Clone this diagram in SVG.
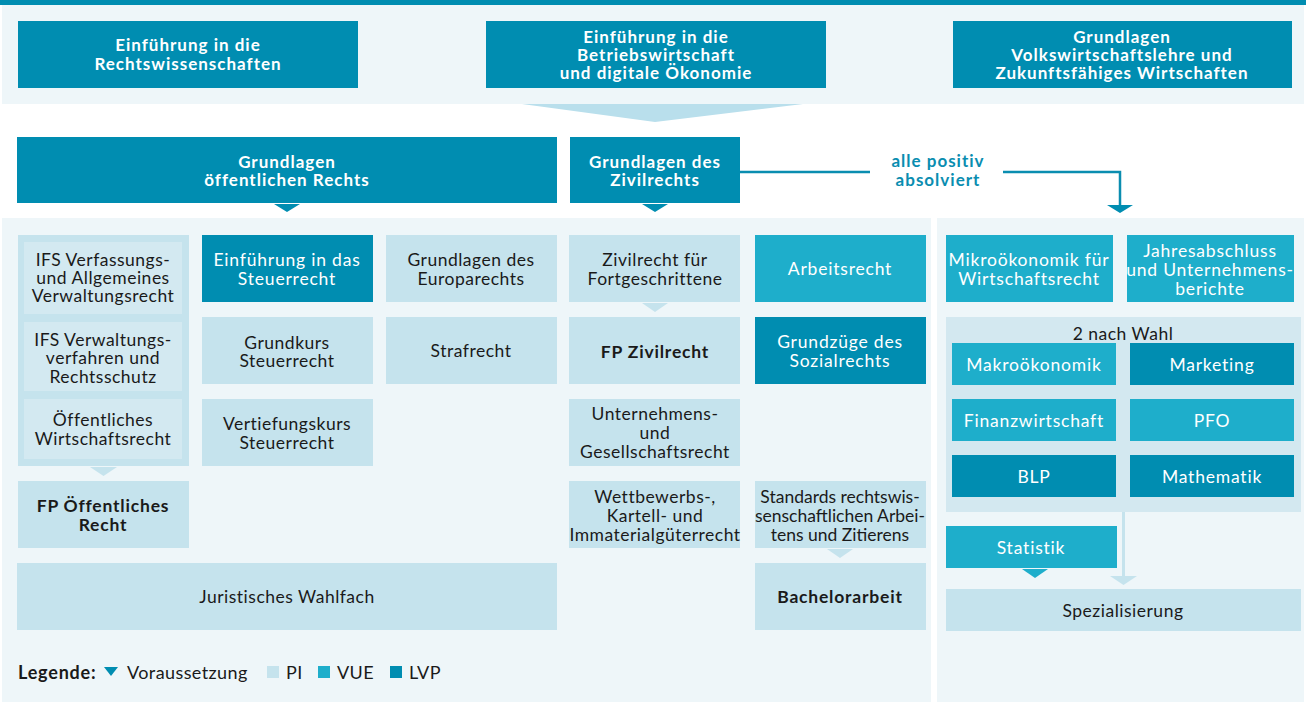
<svg xmlns="http://www.w3.org/2000/svg" width="1306" height="702" viewBox="0 0 1306 702">
<style>
.lvp{fill:#008db1}
.vue{fill:#1eaecb}
.pi{fill:#c5e3ed}
.pil{fill:#d3e9f1}
.grp{fill:#d3e8f0}
.bg{fill:#eef6f9}
.t{font-family:Lato,"Noto Sans",sans-serif;font-size:17.5px;fill:#1a1a1a;text-anchor:middle;letter-spacing:0.5px}
.w{fill:#ffffff;letter-spacing:0.8px}
.b{font-weight:bold;letter-spacing:0.8px}
.h{font-family:Lato,"Noto Sans",sans-serif;font-size:17px;font-weight:bold;fill:#ffffff;text-anchor:middle;letter-spacing:1px}
.lbl{font-family:Lato,"Noto Sans",sans-serif;font-size:17px;font-weight:bold;fill:#0a8db0;text-anchor:middle;letter-spacing:1px}
.lg{font-family:Lato,"Noto Sans",sans-serif;font-size:18px;fill:#1a1a1a;letter-spacing:0.4px}
.line{stroke:#0a8db0;stroke-width:2.5;fill:none}
</style>
<rect width="1306" height="702" fill="#ffffff"/>
<rect x="0" y="0" width="1306" height="5" class="lvp"/>
<rect x="2" y="5" width="1302" height="99" class="bg"/>
<rect x="2" y="218" width="929" height="484" class="bg"/>
<rect x="937" y="218" width="367" height="484" class="bg"/>

<g id="connectors">
<polygon points="522,104 803,104 655,122" fill="#b9dfec"/>
<polygon points="274,204 300,204 287,212" class="lvp"/>
<polygon points="642,204 668,204 655,212" class="lvp"/>
<polyline points="740,172 870,172" class="line"/>
<polyline points="1003,172 1120,172 1120,206" class="line"/>
<polygon points="1107,205 1133,205 1120,213" class="lvp"/>
<polygon points="90,467 117,467 103.5,476" class="pi"/>
<polygon points="642,303 668,303 655,312" class="pi"/>
<polygon points="827,549 853,549 840,558" class="pi"/>
<polygon points="1022,569 1048,569 1035,578" class="vue"/>
<rect x="1122" y="512" width="3" height="65" class="pi"/>
<polygon points="1110,576 1137,576 1123.5,585" class="pi"/>
</g>

<g id="n-rechtswiss"><rect x="18" y="21" width="340" height="67" class="lvp"/>
<text class="h" x="188" y="51">Einführung in die</text><text class="h" x="188" y="70">Rechtswissenschaften</text></g>
<g id="n-bwl"><rect x="486" y="21" width="340" height="67" class="lvp"/>
<text class="h" x="656" y="43">Einführung in die</text><text class="h" x="656" y="61">Betriebswirtschaft</text><text class="h" x="656" y="79">und digitale Ökonomie</text></g>
<g id="n-vwl"><rect x="953" y="21" width="339" height="67" class="lvp"/>
<text class="h" x="1122" y="43">Grundlagen</text><text class="h" x="1122" y="61">Volkswirtschaftslehre und</text><text class="h" x="1122" y="79">Zukunftsfähiges Wirtschaften</text></g>

<g id="n-oeff"><rect x="17" y="137" width="540" height="66" class="lvp"/>
<text class="h" x="287" y="168">Grundlagen</text><text class="h" x="287" y="186">öffentlichen Rechts</text></g>
<g id="n-zivil"><rect x="570" y="137" width="170" height="66" class="lvp"/>
<text class="h" x="655" y="168">Grundlagen des</text><text class="h" x="655" y="186">Zivilrechts</text></g>
<g id="lbl-positiv"><text class="lbl" x="938" y="167">alle positiv</text><text class="lbl" x="938" y="186">absolviert</text></g>

<g id="n-ifs-group"><rect x="18" y="235" width="171" height="231" class="pi"/></g>
<g id="n-ifs1"><rect x="24" y="242" width="158" height="72" class="pil"/>
<text class="t" x="103" y="266">IFS Verfassungs-</text><text class="t" x="103" y="284">und Allgemeines</text><text class="t" x="103" y="302">Verwaltungsrecht</text></g>
<g id="n-ifs2"><rect x="24" y="322" width="158" height="69" class="pil"/>
<text class="t" x="103" y="346">IFS Verwaltungs-</text><text class="t" x="103" y="364">verfahren und</text><text class="t" x="103" y="383">Rechtsschutz</text></g>
<g id="n-owr"><rect x="24" y="399" width="158" height="60" class="pil"/>
<text class="t" x="103" y="426">Öffentliches</text><text class="t" x="103" y="445">Wirtschaftsrecht</text></g>
<g id="n-fp-oeff"><rect x="18" y="481" width="171" height="67" class="pi"/>
<text class="t b" x="103" y="512">FP Öffentliches</text><text class="t b" x="103" y="531">Recht</text></g>
<g id="n-wahlfach"><rect x="17" y="563" width="540" height="67" class="pi"/>
<text class="t" x="287" y="603">Juristisches Wahlfach</text></g>

<g id="n-steuer1"><rect x="202" y="235" width="171" height="67" class="lvp"/>
<text class="t w" x="287" y="266">Einführung in das</text><text class="t w" x="287" y="285">Steuerrecht</text></g>
<g id="n-steuer2"><rect x="202" y="317" width="171" height="67" class="pi"/>
<text class="t" x="287" y="349">Grundkurs</text><text class="t" x="287" y="367">Steuerrecht</text></g>
<g id="n-steuer3"><rect x="202" y="399" width="171" height="67" class="pi"/>
<text class="t" x="287" y="430">Vertiefungskurs</text><text class="t" x="287" y="449">Steuerrecht</text></g>

<g id="n-europa"><rect x="386" y="235" width="171" height="67" class="pi"/>
<text class="t" x="471" y="266">Grundlagen des</text><text class="t" x="471" y="285">Europarechts</text></g>
<g id="n-straf"><rect x="386" y="317" width="171" height="67" class="pi"/>
<text class="t" x="471" y="357">Strafrecht</text></g>

<g id="n-zivil-fort"><rect x="569" y="235" width="171" height="67" class="pi"/>
<text class="t" x="655" y="266">Zivilrecht für</text><text class="t" x="655" y="285">Fortgeschrittene</text></g>
<g id="n-fp-zivil"><rect x="569" y="317" width="171" height="67" class="pi"/>
<text class="t b" x="655" y="358">FP Zivilrecht</text></g>
<g id="n-gesell"><rect x="569" y="399" width="171" height="67" class="pi"/>
<text class="t" x="655" y="420">Unternehmens-</text><text class="t" x="655" y="439">und</text><text class="t" x="655" y="458">Gesellschaftsrecht</text></g>
<g id="n-wettbewerb"><rect x="569" y="481" width="171" height="67" class="pi"/>
<text class="t" x="655" y="503">Wettbewerbs-,</text><text class="t" x="655" y="522">Kartell- und</text><text class="t" x="655" y="541">Immaterialgüterrecht</text></g>

<g id="n-arbeit"><rect x="755" y="235" width="171" height="67" class="vue"/>
<text class="t w" x="840" y="275">Arbeitsrecht</text></g>
<g id="n-sozial"><rect x="755" y="317" width="171" height="67" class="lvp"/>
<text class="t w" x="840" y="348">Grundzüge des</text><text class="t w" x="840" y="367">Sozialrechts</text></g>
<g id="n-standards"><rect x="755" y="481" width="171" height="67" class="pi"/>
<text class="t" x="840" y="503" style="letter-spacing:0px">Standards rechtswis-</text><text class="t" x="840" y="522" style="letter-spacing:0px">senschaftlichen Arbei-</text><text class="t" x="840" y="541" style="letter-spacing:0px">tens und Zitierens</text></g>
<g id="n-bachelor"><rect x="755" y="563" width="171" height="67" class="pi"/>
<text class="t b" x="840" y="603">Bachelorarbeit</text></g>

<g id="n-mikro"><rect x="946" y="235" width="167" height="67" class="vue"/>
<text class="t w" x="1029" y="266">Mikroökonomik für</text><text class="t w" x="1029" y="285">Wirtschaftsrecht</text></g>
<g id="n-jahres"><rect x="1127" y="235" width="167" height="67" class="vue"/>
<text class="t w" x="1210" y="257">Jahresabschluss</text><text class="t w" x="1210" y="276">und Unternehmens-</text><text class="t w" x="1210" y="295">berichte</text></g>
<g id="n-wahl-group"><rect x="946" y="317" width="355" height="195" class="grp"/>
<text class="t" x="1123" y="340">2 nach Wahl</text></g>
<g id="n-makro"><rect x="952" y="343" width="164" height="42" class="vue"/>
<text class="t w" x="1034" y="371">Makroökonomik</text></g>
<g id="n-marketing"><rect x="1130" y="343" width="164" height="42" class="lvp"/>
<text class="t w" x="1212" y="371">Marketing</text></g>
<g id="n-finanz"><rect x="952" y="399" width="164" height="42" class="vue"/>
<text class="t w" x="1034" y="427">Finanzwirtschaft</text></g>
<g id="n-pfo"><rect x="1130" y="399" width="164" height="42" class="vue"/>
<text class="t w" x="1212" y="427">PFO</text></g>
<g id="n-blp"><rect x="952" y="455" width="164" height="42" class="lvp"/>
<text class="t w" x="1034" y="483">BLP</text></g>
<g id="n-mathe"><rect x="1130" y="455" width="164" height="42" class="lvp"/>
<text class="t w" x="1212" y="483">Mathematik</text></g>
<g id="n-statistik"><rect x="946" y="526" width="171" height="42" class="vue"/>
<text class="t w" x="1031" y="554">Statistik</text></g>
<g id="n-spezial"><rect x="946" y="589" width="355" height="42" class="pi"/>
<text class="t" x="1123" y="617">Spezialisierung</text></g>

<g id="legend">
<text x="18" y="679" class="lg" style="font-weight:bold;letter-spacing:0.8px">Legende:</text>
<polygon points="104,667 118,667 111,676" class="lvp"/>
<text x="127" y="679" class="lg">Voraussetzung</text>
<rect x="267" y="666" width="12" height="12" class="pi"/>
<text x="286" y="679" class="lg">PI</text>
<rect x="318" y="666" width="12" height="12" class="vue"/>
<text x="337" y="679" class="lg">VUE</text>
<rect x="390" y="666" width="12" height="12" class="lvp"/>
<text x="409" y="679" class="lg">LVP</text>
</g>
</svg>
